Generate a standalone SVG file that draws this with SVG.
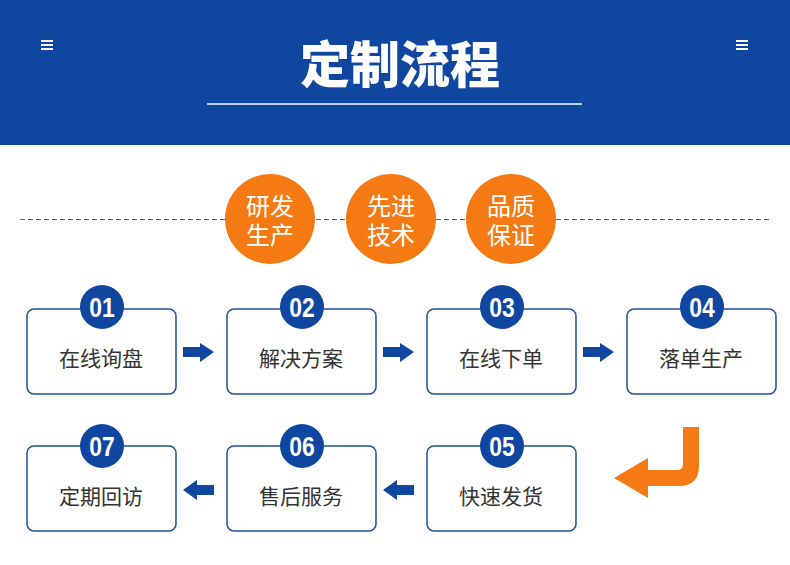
<svg xmlns="http://www.w3.org/2000/svg" width="790" height="565" viewBox="0 0 790 565">
<defs>
<style>
.hdr{fill:#0F47A0}
.box{fill:#FFFFFF;stroke:#1F4F9C;stroke-width:1.5}
.badge{fill:#0F47A0}
.num{fill:#FFFFFF;font-family:"Liberation Sans","DejaVu Sans",sans-serif;font-weight:bold;font-size:27px;text-anchor:middle}
.lbl{fill:#333333;font-family:"Noto Sans CJK SC","Noto Sans",sans-serif;font-size:21px;text-anchor:middle}
.orb{fill:#F57A14}
.orbt{fill:#FFFFFF;font-family:"Noto Sans CJK SC","Noto Sans",sans-serif;font-size:24px;text-anchor:middle}
.arr{fill:#0F47A0}
.menu{fill:#FFFFFF}
</style>
</defs>
<rect class="hdr" x="0" y="0" width="790" height="145"/>
<g id="menu-left" class="menu">
<rect x="41" y="40" width="12" height="2"/>
<rect x="41" y="44" width="12" height="2"/>
<rect x="41" y="48" width="12" height="2"/>
</g>
<g id="menu-right" class="menu">
<rect x="736" y="40" width="12" height="2"/>
<rect x="736" y="44" width="12" height="2"/>
<rect x="736" y="48" width="12" height="2"/>
</g>
<text x="400" y="83" fill="#FFFFFF" font-family="Noto Sans CJK SC, Noto Sans, sans-serif" font-weight="900" font-size="50" text-anchor="middle">定制流程</text>
<line x1="207" y1="104" x2="582" y2="104" stroke="#FFFFFF" stroke-width="1.5"/>
<line x1="20" y1="219.5" x2="770" y2="219.5" stroke="#3570C8" stroke-width="1" stroke-dasharray="5,3"/>
<g id="orb1"><circle class="orb" cx="270" cy="219" r="45"/><text class="orbt" x="270" y="215">研发</text><text class="orbt" x="270" y="244">生产</text></g>
<g id="orb2"><circle class="orb" cx="391" cy="219" r="45"/><text class="orbt" x="391" y="215">先进</text><text class="orbt" x="391" y="244">技术</text></g>
<g id="orb3"><circle class="orb" cx="511" cy="219" r="45"/><text class="orbt" x="511" y="215">品质</text><text class="orbt" x="511" y="244">保证</text></g>
<g id="connectors">
<polygon class="arr" points="183,347 200,347 200,343 214,352 200,362 200,357 183,357"/>
<polygon class="arr" points="383,347 400,347 400,343 414,352 400,362 400,357 383,357"/>
<polygon class="arr" points="583,347 600,347 600,343 614,352 600,362 600,357 583,357"/>
<polygon class="arr" points="414,485 397,485 397,480 383,490 397,500 397,495 414,495"/>
<polygon class="arr" points="214,485 197,485 197,480 183,490 197,500 197,495 214,495"/>
<path d="M683,427 L699,427 L699,466 Q699,486 679,486 L648,486 L648,498 L614,478 L648,458 L648,470 L677,470 Q683,470 683,464 Z" fill="#F57A14"/>
</g>
<g id="step01"><rect class="box" x="27" y="309" width="149" height="85" rx="7"/><circle class="badge" cx="102" cy="307" r="22"/><text class="num" transform="translate(102,317) scale(0.85,1.05)">01</text><text class="lbl" x="101" y="366">在线询盘</text></g>
<g id="step02"><rect class="box" x="227" y="309" width="149" height="85" rx="7"/><circle class="badge" cx="302" cy="307" r="22"/><text class="num" transform="translate(302,317) scale(0.85,1.05)">02</text><text class="lbl" x="301" y="366">解决方案</text></g>
<g id="step03"><rect class="box" x="427" y="309" width="149" height="85" rx="7"/><circle class="badge" cx="502" cy="307" r="22"/><text class="num" transform="translate(502,317) scale(0.85,1.05)">03</text><text class="lbl" x="501" y="366">在线下单</text></g>
<g id="step04"><rect class="box" x="627" y="309" width="149" height="85" rx="7"/><circle class="badge" cx="702" cy="307" r="22"/><text class="num" transform="translate(702,317) scale(0.85,1.05)">04</text><text class="lbl" x="701" y="366">落单生产</text></g>
<g id="step05"><rect class="box" x="427" y="446" width="149" height="85" rx="7"/><circle class="badge" cx="502" cy="446" r="22"/><text class="num" transform="translate(502,456) scale(0.85,1.05)">05</text><text class="lbl" x="501" y="504">快速发货</text></g>
<g id="step06"><rect class="box" x="227" y="446" width="149" height="85" rx="7"/><circle class="badge" cx="302" cy="446" r="22"/><text class="num" transform="translate(302,456) scale(0.85,1.05)">06</text><text class="lbl" x="301" y="504">售后服务</text></g>
<g id="step07"><rect class="box" x="27" y="446" width="149" height="85" rx="7"/><circle class="badge" cx="102" cy="446" r="22"/><text class="num" transform="translate(102,456) scale(0.85,1.05)">07</text><text class="lbl" x="101" y="504">定期回访</text></g>
</svg>
